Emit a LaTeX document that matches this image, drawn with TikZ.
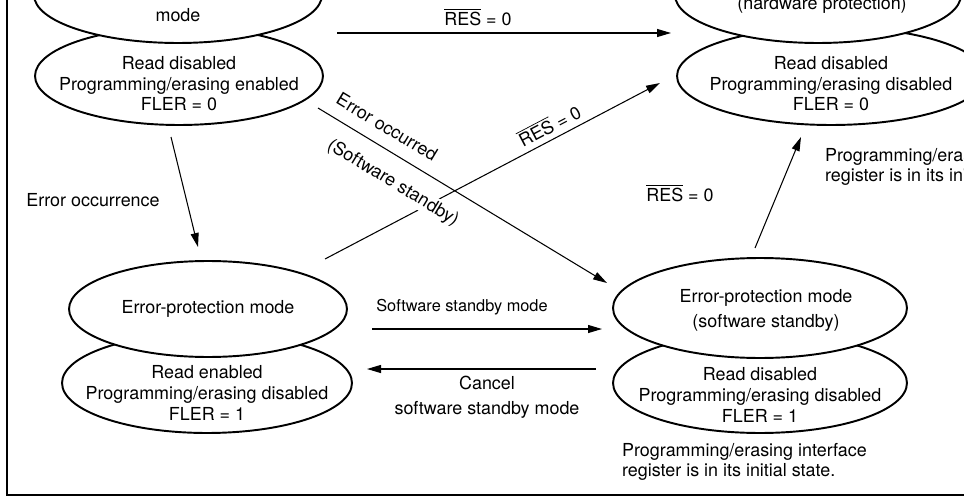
\documentclass[tikz,border=0pt]{standalone}
\usepackage{fontspec}
\setmainfont{TeX Gyre Heros}
\usepackage{tikz}
\usetikzlibrary{positioning, arrows.meta, shapes.geometric}

\newcommand{\resbar}{$\overline{\mbox{RES}}$}

\begin{document}
\begin{tikzpicture}[
        x=0.02cm, y=-0.02cm,
        font=\fontsize{10.2}{11.7}\selectfont,
        state/.style={ellipse, draw, line width=1.1pt, fill=white, inner sep=0pt},
        txt/.style={align=center, inner sep=1pt},
        note/.style={align=left, anchor=west, inner sep=1pt},
        trans/.style={-{Triangle[length=2.8mm, width=1.6mm]}, line width=0.6pt},
    ]
    \useasboundingbox (0,0) rectangle (964,497);
    \clip (0,0) rectangle (964,497);

    % === TOP LEFT STATE ===
    \node[state, minimum width=5.76cm, minimum height=1.96cm] (tlLow) at (179,76) {};
    \node[state, minimum width=5.76cm, minimum height=1.92cm] (tlUp) at (178,-5) {};
    \node[txt] (tlName) at (178,15) {mode};
    \node[txt] (tlInfo) at (179,84) {Read disabled\\Programming/erasing enabled\\FLER = 0};

    % === TOP RIGHT STATE (hardware protection) ===
    \node[state, minimum width=6.16cm, minimum height=1.96cm] (trLow) at (831,76) {};
    \node[state, minimum width=5.72cm, minimum height=1.92cm] (trUp) at (818,-5) {};
    \node[txt] (trName) at (822,5) {(hardware protection)};
    \node[txt] (trInfo) at (831,84) {Read disabled\\Programming/erasing disabled\\FLER = 0};
    \node[note] (trNote) at (823,167) {Programming/erasing interface\\register is in its initial state.};

    % === BOTTOM LEFT STATE ===
    \node[state, minimum width=5.8cm, minimum height=2cm] (blLow) at (207,383) {};
    \node[state, minimum width=5.56cm, minimum height=1.92cm] (blUp) at (208,309) {};
    \node[txt] (blName) at (208,309) {Error-protection mode};
    \node[txt] (blInfo) at (207,393) {Read enabled\\Programming/erasing disabled\\FLER = 1};

    % === BOTTOM RIGHT STATE (software standby) ===
    \node[state, minimum width=5.88cm, minimum height=2cm] (brLow) at (760,383) {};
    \node[state, minimum width=5.88cm, minimum height=2cm] (brUp) at (760,308) {};
    \node[txt] (brName) at (766,310) {Error-protection mode\\[2.5pt](software standby)};
    \node[txt] (brInfo) at (760,395) {Read disabled\\Programming/erasing disabled\\FLER = 1};
    \node[note] (brNote) at (620,462) {Programming/erasing interface\\register is in its initial state.};

    % Arrow ends
    \coordinate (resTopA) at (337,33);
    \coordinate (resTopB) at (671,33);
    \coordinate (errA) at (318,108);
    \coordinate (errB) at (607,283);
    \coordinate (resDiagA) at (325,259);
    \coordinate (resDiagB) at (660,83);
    \coordinate (occA) at (171,137);
    \coordinate (occB) at (198,247);
    \coordinate (resUpA) at (755,248);
    \coordinate (resUpB) at (801,137);
    \coordinate (stbyA) at (372,329);
    \coordinate (stbyB) at (602,329);
    \coordinate (cancelA) at (596,369);
    \coordinate (cancelB) at (367,369);

    % === TRANSITIONS ===
    \draw[trans] (resTopA) -- (resTopB);
    \draw[trans] (resDiagA) -- (resDiagB);
    \draw[trans] (errA) -- (errB);
    \draw[trans] (occA) -- (occB);
    \draw[trans] (resUpA) -- (resUpB);
    \draw[trans] (stbyA) -- (stbyB);
    \draw[trans] (cancelA) -- (cancelB);

    % Labels
    \node[txt] (resTopLbl) at (478,17) {\resbar{} = 0};
    \node[txt, rotate=27.7] (resDiagLbl) at (549,125) {\resbar{} = 0};
    \node[txt, rotate=-31.2] (errLbl) at (387,127) {Error occurred};
    \node[txt, rotate=-31.2, fill=white] (errStbyLbl) at (393,183) {(Software standby)};
    \node[txt] (occLbl) at (93,200) {Error occurrence};
    \node[txt] (resUpLbl) at (680,193) {\resbar{} = 0};
    \node[txt, font=\fontsize{9.3}{11}\selectfont] (stbyLbl) at (462,307) {Software standby mode};
    \node[txt] (cancelLbl) at (487,397) {Cancel\\[2.5pt]software standby mode};

    % Frame
    \draw[line width=1.2pt] (7,-5) -- (7,495) -- (970,495);

\end{tikzpicture}
\end{document}
